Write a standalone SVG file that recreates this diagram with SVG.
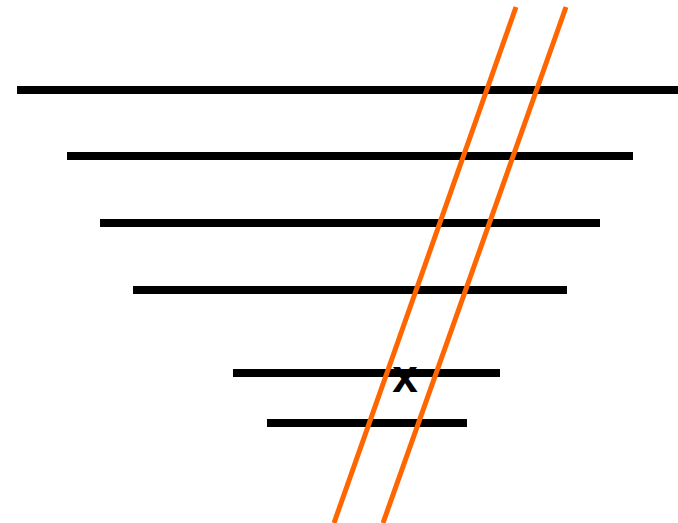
<svg xmlns="http://www.w3.org/2000/svg" width="678" height="523" viewBox="0 0 678 523">
<style>
.h{stroke:#000;stroke-width:8;fill:none}
.o{stroke:#ff6600;stroke-width:5;fill:none}
.t{font-family:"Liberation Sans",Arial,sans-serif;font-weight:bold;font-size:46px;fill:#000}
</style>
<rect width="678" height="523" fill="#fff"/>
<g id="levels">
<line id="l1" class="h" x1="17" y1="90" x2="678" y2="90"/>
<line id="l2" class="h" x1="67" y1="156" x2="633" y2="156"/>
<line id="l3" class="h" x1="100" y1="223" x2="600" y2="223"/>
<line id="l4" class="h" x1="133" y1="290" x2="567" y2="290"/>
<line id="l5" class="h" x1="233" y1="373" x2="500" y2="373"/>
<line id="l6" class="h" x1="267" y1="423" x2="467" y2="423"/>
</g>
<g id="mark"><text class="t" x="405" y="392" text-anchor="middle">x</text></g>
<g id="connectors">
<line class="o" x1="516" y1="7" x2="334" y2="523"/>
<line class="o" x1="566" y1="7" x2="383" y2="523"/>
</g>
</svg>
